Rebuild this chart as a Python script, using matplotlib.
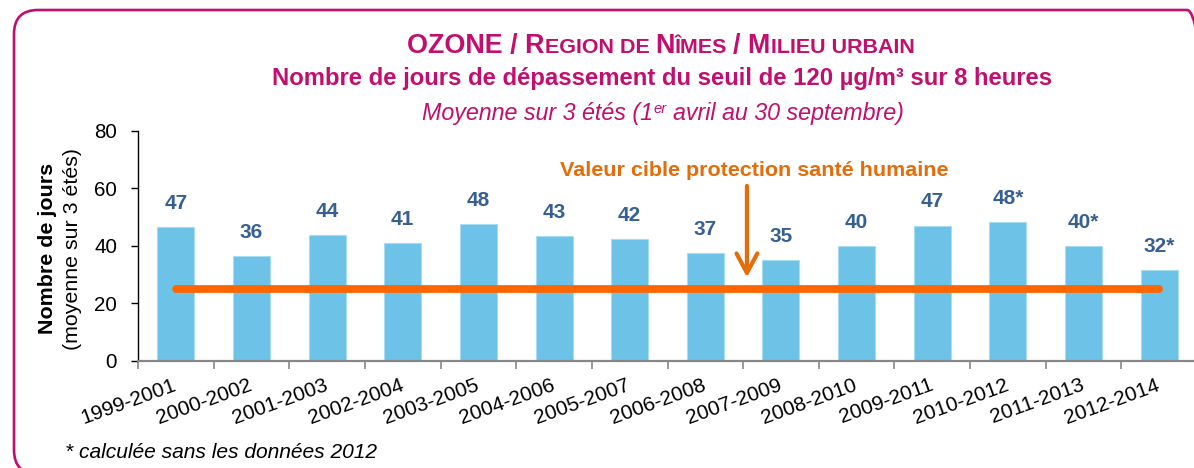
import numpy as np
import matplotlib
matplotlib.use("Agg")
import matplotlib.pyplot as plt
from matplotlib.patches import FancyBboxPatch
from matplotlib.transforms import IdentityTransform

# ---------------- data ----------------
periods = ["1999-2001", "2000-2002", "2001-2003", "2002-2004", "2003-2005",
           "2004-2006", "2005-2007", "2006-2008", "2007-2009", "2008-2010",
           "2009-2011", "2010-2012", "2011-2013", "2012-2014"]
values = [46.6, 36.4, 43.7, 41.0, 47.6, 43.4, 42.3, 37.4, 35.0, 40.0, 47.0, 48.1, 40.0, 31.5]
value_labels = ["47", "36", "44", "41", "48", "43", "42", "37", "35", "40", "47", "48*", "40*", "32*"]
target_value = 25
yticks = [0, 20, 40, 60, 80]

# ---------------- style ----------------
MAGENTA = "#C20E6F"
BAR = "#6DC2E8"
BAR_EDGE = "#A9DCF2"
LABEL_BLUE = "#376092"
ORANGE_LINE = "#FF6600"
ORANGE_TXT = "#E46C0A"

plt.rcParams["font.family"] = ["Liberation Sans", "DejaVu Sans"]

W, H = 1194, 468
fig = plt.figure(figsize=(W / 100, H / 100), dpi=100)
renderer = fig.canvas.get_renderer()


def fx(px):
    return px / W


def fy(py):
    return 1 - py / H


def measure(s, **kw):
    t1 = fig.text(0, 0, "|" + s + "|", **kw)
    t2 = fig.text(0, 0, "||", **kw)
    w = t1.get_window_extent(renderer).width - t2.get_window_extent(renderer).width
    t1.remove()
    t2.remove()
    return w


def rich_line(pieces, xc, y_base, target_w):
    """pieces: list of (text, kwargs-with-size, dy_px)."""
    tot = sum(measure(s, **kw) for s, kw, dy in pieces)
    k = target_w / tot
    scaled = []
    for s, kw, dy in pieces:
        kw2 = dict(kw)
        kw2["fontsize"] = kw["fontsize"] * k
        scaled.append((s, kw2, dy * k))
    widths = [measure(s, **kw) for s, kw, dy in scaled]
    x = xc - sum(widths) / 2
    for (s, kw, dy), w in zip(scaled, widths):
        lead = len(s) - len(s.lstrip(" "))
        sp = measure(" ", **kw) if lead else 0
        fig.text(fx(x + lead * sp), fy(y_base - dy), s.strip(" "),
                 ha="left", va="baseline", **kw)
        x += w


def fit_text(s, x, y, target_w, size0=12, **kw):
    w = measure(s, fontsize=size0, **{k: v for k, v in kw.items() if k not in ("ha", "va", "rotation")})
    fig.text(fx(x), fy(y), s, fontsize=size0 * target_w / w, **kw)


# ---------------- frame ----------------
frame = FancyBboxPatch((14, -6), 1197, 464, boxstyle="round,pad=0,rounding_size=24",
                       transform=IdentityTransform(), fill=False,
                       edgecolor=MAGENTA, linewidth=1.9)
fig.patches.append(frame)

# ---------------- titles ----------------
big = dict(fontsize=18, fontweight="bold", color=MAGENTA)
small = dict(fontsize=14.4, fontweight="bold", color=MAGENTA)
rich_line([("OZONE / R", big, 0), ("EGION DE ", small, 0), ("N", big, 0),
           ("ÎMES ", small, 0), ("/ M", big, 0), ("ILIEU URBAIN", small, 0)],
          661, 53, 509)

rich_line([("Nombre de jours de dépassement du seuil de 120 µg/m³ sur 8 heures",
            dict(fontsize=15, fontweight="bold", color=MAGENTA), 0)],
          662, 85, 785)

it = dict(fontsize=15, fontstyle="italic", color=MAGENTA)
it_sup = dict(fontsize=9.5, fontstyle="italic", color=MAGENTA)
rich_line([("Moyenne sur 3 étés (1", it, 0), ("er", it_sup, 6.5),
           (" avril au 30 septembre)", it, 0)],
          663, 120, 483)

# ---------------- axes ----------------
ax = fig.add_axes([fx(138), fy(360.7), (1197 - 138) / W, (360.7 - 130.7) / H])
n = len(periods)
x = np.arange(n)
ax.bar(x, values, width=0.49, color=BAR, edgecolor=BAR_EDGE, linewidth=0.8, zorder=2)
ax.plot([x[0], x[-1]], [target_value, target_value], color=ORANGE_LINE, lw=5.6,
        solid_capstyle="round", zorder=3)

for xi, v, lab in zip(x, values, value_labels):
    ax.annotate(lab, (xi, v), xytext=(0, 17), textcoords="offset points",
                ha="center", va="center", fontsize=15, fontweight="bold",
                color=LABEL_BLUE, zorder=4)

ax.set_xlim(-0.5, n - 0.5)
ax.set_ylim(0, 80)
ax.set_yticks(yticks)
ax.set_xticks(np.arange(-0.5, n, 1.0))
ax.set_xticklabels([])
ax.set_xticks(x, labels=periods, minor=True)

for s in ("top", "right"):
    ax.spines[s].set_visible(False)
ax.spines["left"].set_color("black")
ax.spines["left"].set_linewidth(1.0)
ax.spines["bottom"].set_color("#878787")
ax.spines["bottom"].set_linewidth(1.6)
ax.spines["bottom"].set_zorder(5)

ax.tick_params(axis="y", direction="out", length=5, width=1, color="black",
               labelsize=14.8, pad=10)
ax.tick_params(axis="x", which="major", direction="out", length=6, width=1.2,
               color="#878787")
ax.tick_params(axis="x", which="minor", length=0, labelsize=15, pad=17,
               labelrotation=20)
for lbl in ax.get_xticklabels(minor=True):
    lbl.set_ha("right")
    lbl.set_va("center")
    lbl.set_rotation_mode("anchor")

# target annotation
ax.annotate("", xy=(7.55, 29.0), xytext=(7.55, 60.8),
            arrowprops=dict(arrowstyle="->,head_length=14,head_width=7.5",
                            mutation_scale=1, color=ORANGE_TXT, lw=3,
                            shrinkA=0, shrinkB=0), zorder=4)
fit_text("Valeur cible protection santé humaine", 754, 176.5, 385,
         fontweight="bold", color=ORANGE_TXT, ha="center", va="baseline")

# y label
fit_text("Nombre de jours", 48, 248, 170, fontweight="bold", color="black",
         ha="center", va="center", rotation=90)
fit_text("(moyenne sur 3 étés)", 72, 249, 202, color="black",
         ha="center", va="center", rotation=90)

# footnote
fit_text("* calculée sans les données 2012", 65, 458, 314, fontstyle="italic",
         color="black", ha="left", va="baseline")

fig.savefig("out.png", dpi=100)
